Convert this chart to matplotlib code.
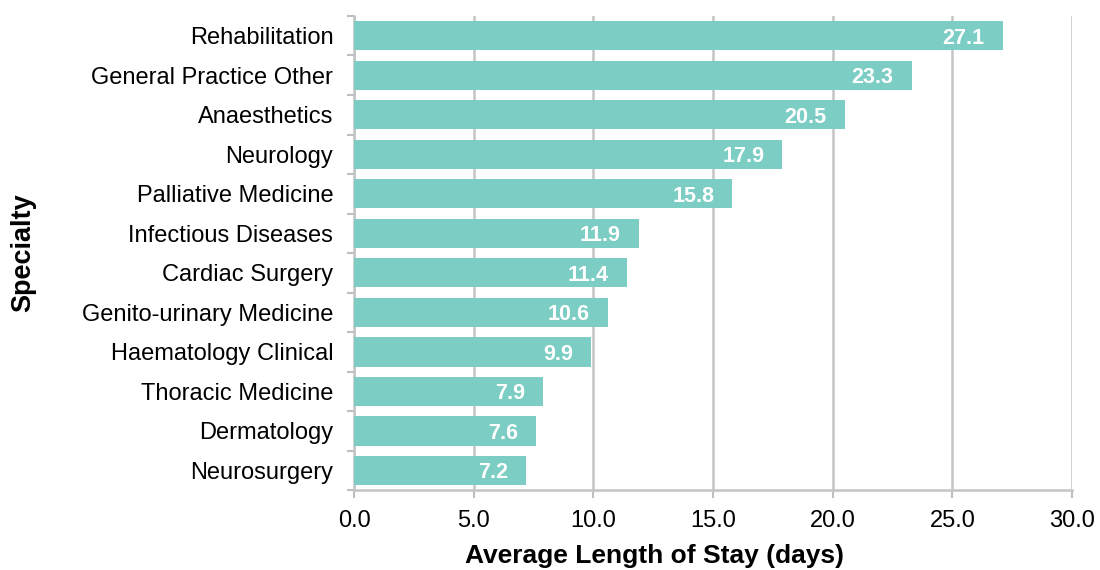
import matplotlib
matplotlib.use("Agg")
import matplotlib.pyplot as plt

categories = ["Rehabilitation", "General Practice Other", "Anaesthetics", "Neurology",
              "Palliative Medicine", "Infectious Diseases", "Cardiac Surgery",
              "Genito-urinary Medicine", "Haematology Clinical", "Thoracic Medicine",
              "Dermatology", "Neurosurgery"]
values = [27.1, 23.3, 20.5, 17.9, 15.8, 11.9, 11.4, 10.6, 9.9, 7.9, 7.6, 7.2]
xticks = [0, 5, 10, 15, 20, 25, 30]

plt.rcParams['font.family'] = ['Liberation Sans', 'DejaVu Sans']

fig = plt.figure(figsize=(11, 5.7), dpi=100)
ax = fig.add_axes([0.322, 0.14, 0.6525, 0.832])

ypos = list(range(len(categories)))
ax.barh(ypos, values, height=0.74, color="#7ccdc4", zorder=3)
ax.set_ylim(len(categories) - 0.5, -0.5)
ax.set_xlim(0, 30)
ax.set_yticks(ypos)
ax.set_yticklabels(categories, fontsize=17)
ax.set_yticks([i + 0.5 for i in range(-1, len(categories))], minor=True)
ax.tick_params(axis='y', which='major', length=0, pad=15)
ax.tick_params(axis='y', which='minor', length=5, color="#bfbfbf", width=1.5)
ax.set_xticks(xticks)
ax.set_xticklabels([f"{t:.1f}" for t in xticks], fontsize=17)
ax.tick_params(axis='x', length=6, color="#bfbfbf", width=1.5, pad=8)

for v, y in zip(values, ypos):
    ax.annotate(f"{v:.1f}", xy=(v, y), xytext=(-13, 0), textcoords='offset points',
                ha='right', va='center_baseline', color='white',
                fontsize=15.5, fontweight='bold', zorder=4)

ax.grid(axis='x', color="#c4c4c4", linewidth=1.8, zorder=0)
for s in ['top', 'right']:
    ax.spines[s].set_visible(False)
for s in ['left', 'bottom']:
    ax.spines[s].set_color("#c4c4c4")
    ax.spines[s].set_linewidth(1.8)

ax.set_xlabel("Average Length of Stay (days)", fontsize=19, fontweight='bold', labelpad=9)
ax.xaxis.label.set_x(0.418)
ax.set_ylabel("Specialty", fontsize=19.5, fontweight='bold')
ax.yaxis.set_label_coords(-0.443, 0.5)

fig.savefig("out.png", dpi=100)
